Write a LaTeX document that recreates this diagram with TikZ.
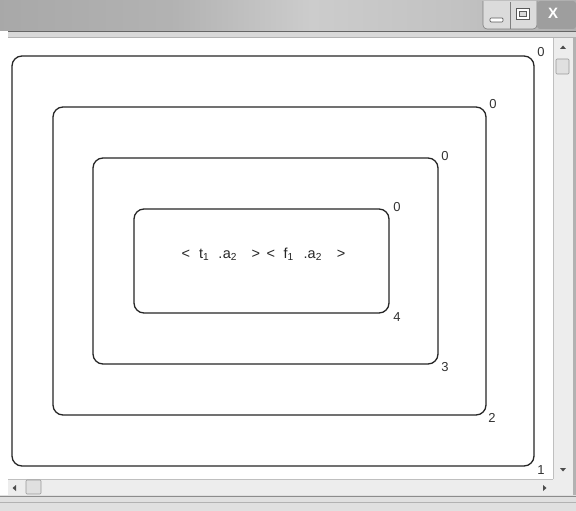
\documentclass[tikz,border=0pt]{standalone}
\usepackage{fontspec}
\setmainfont{Liberation Sans}
\pgfdeclarehorizontalshading{titlebar}{100bp}{color(0bp)=(black!20); color(25bp)=(black!34); color(40bp)=(black!30); color(52bp)=(black!20); color(65bp)=(black!24); color(80bp)=(black!34); color(100bp)=(black!26)}
\begin{document}
\begin{tikzpicture}[x=1pt,y=-1pt,
  box/.style={draw=black!85,line width=1.3pt,rounded corners=10pt},
  lab/.style={font=\fontsize{13}{13}\selectfont,text=black!80,inner sep=0pt},
  arr/.style={fill=black!70,draw=none},
  btn/.style={draw=black!50,line width=0.6pt}]
\useasboundingbox (0,0) rectangle (576,511);
% title bar
\shade[shading=titlebar] (0,0) rectangle (576,31);
\fill[black!15] (8,31) rectangle (576,38);
\draw[black!60,line width=0.8pt] (8,31) -- (576,31);
\draw[black!30,line width=0.6pt] (8,37.5) -- (576,37.5);
% window buttons
\path[btn,fill=black!14,rounded corners=4pt] (483,1) -- (483,29) -- (537,29) -- (537,1);
\draw[btn] (510,2) -- (510,29);
\fill[black!38,rounded corners=3pt] (537,1) rectangle (576,29);
\draw[black!65,fill=white,rounded corners=1pt,line width=0.7pt] (490,18) rectangle (503,22);
\draw[black!65,fill=white,line width=0.8pt] (516,8) rectangle (529,19);
\draw[black!65,fill=black!15,line width=0.7pt] (519,11) rectangle (526,16);
\node[font=\bfseries\fontsize{15}{15}\selectfont,text=white,draw=none,inner sep=0pt] (xbtn) at (553,13) {X};
% client area
\fill[white] (8,38) rectangle (553,479);
% scrollbars
\fill[black!7] (553,38) rectangle (573,479);
\draw[black!25,line width=0.6pt] (553,38) -- (553,479);
\fill[black!7] (8,479) rectangle (573,495);
\draw[black!25,line width=0.6pt] (8,479) -- (553,479);
\fill[black!30] (573,38) rectangle (576,511);
\fill[black!12] (0,495) rectangle (576,511);
\draw[black!45,line width=0.8pt] (0,496) -- (576,496);
\draw[black!30,line width=0.6pt] (0,502) -- (576,502);
\draw[black!40,line width=0.6pt,fill=black!12,rounded corners=1pt] (556,59) rectangle (569,74);
\draw[black!40,line width=0.6pt,fill=black!12,rounded corners=1pt] (26,480) rectangle (41,494);
\fill[arr] (560,49) -- (566,49) -- (563,45.5) -- cycle;
\fill[arr] (560,468) -- (566,468) -- (563,471.5) -- cycle;
\fill[arr] (16,485) -- (16,491) -- (12.5,488) -- cycle;
\fill[arr] (543,485) -- (543,491) -- (546.5,488) -- cycle;
% nested boxes
\draw[box] (12,56) rectangle (534,466);
\draw[box] (53,107) rectangle (486,415);
\draw[box] (93,158) rectangle (438,364);
\draw[box] (134,209) rectangle (389,313);
% labels
\node[lab] (t1) at (541,52) {0};
\node[lab] (b1) at (541,470) {1};
\node[lab] (t2) at (493,104) {0};
\node[lab] (b2) at (492,418) {2};
\node[lab] (t3) at (445,156) {0};
\node[lab] (b3) at (445,367) {3};
\node[lab] (t4) at (397,207) {0};
\node[lab] (b4) at (397,317) {4};
\node[lab,font=\fontsize{14.5}{14.5}\selectfont,text=black!85,anchor=base west] (expr) at (181.5,258)
  {<\hspace{9pt}t\textsubscript{1}\hspace{9pt}.\hspace{0.5pt}a\textsubscript{2}\hspace{14.5pt}>\hspace{6.5pt}<\hspace{8.5pt}f\textsubscript{1}\hspace{10pt}.\hspace{0pt}a\textsubscript{2}\hspace{15pt}>};
\end{tikzpicture}
\end{document}
